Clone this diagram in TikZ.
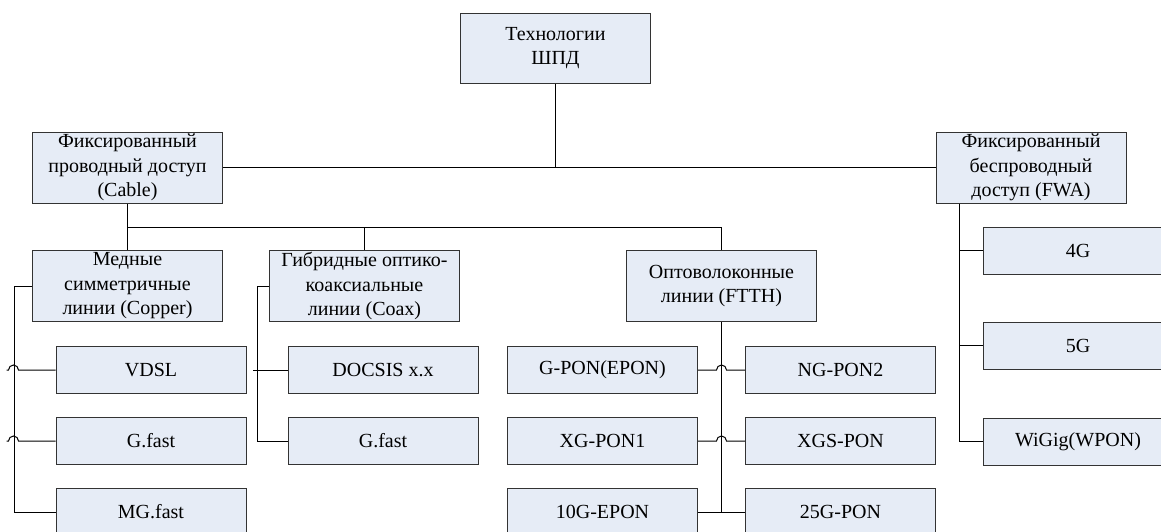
\documentclass[tikz,border=0pt]{standalone}
\usepackage{fontspec}
\setmainfont{Liberation Serif}

\definecolor{boxfill}{RGB}{230,236,246}

\begin{document}
\begin{tikzpicture}[x=1pt,y=-1pt,
  blk/.style={draw=black!80,fill=boxfill,line width=1pt,minimum width=190pt,
    inner sep=0pt,align=center,font=\fontsize{20}{24.5}\selectfont},
  tallbox/.style={blk,minimum height=71pt},
  smallbox/.style={blk,minimum height=47pt},
  wire/.style={line width=1pt,black}]
\useasboundingbox (0,0) rectangle (1161,531);

% top and first level
\node [blk,minimum height=70pt] (shpd) at (555.5,48) {Технологии\\ШПД};
\node [tallbox] (cable) at (127.5,167.5) {Фиксированный\\проводный доступ\\(Cable)};
\node [tallbox] (fwa) at (1031,167.5) {Фиксированный\\беспроводный\\доступ (FWA)};

% wired groups
\node [tallbox] (copper) at (127.5,286) {Медные\\симметричные\\линии (Copper)};
\node [tallbox] (coax) at (364.5,286) {Гибридные оптико-\\коаксиальные\\линии (Coax)};
\node [tallbox] (ftth) at (721.5,286) {Оптоволоконные\\линии (FTTH)};

% copper
\node [smallbox] (vdsl) at (151,370) {VDSL};
\node [smallbox] (gfast) at (151,441) {G.fast};
\node [smallbox] (mgfast) at (151,512) {MG.fast};

% coax
\node [smallbox] (docsis) at (383,370) {DOCSIS x.x};
\node [smallbox] (gfastc) at (383,441) {G.fast};

% ftth
\node [smallbox] (gpon) at (602.5,370) {G-PON(EPON)};
\node [smallbox] (xgpon) at (602.5,441) {XG-PON1};
\node [smallbox] (epon) at (602.5,512) {10G-EPON};
\node [smallbox] (ngpon) at (840.5,370) {NG-PON2};
\node [smallbox] (xgspon) at (840.5,441) {XGS-PON};
\node [smallbox] (pon25) at (840.5,512) {25G-PON};

% wireless
\node [smallbox] (g4) at (1078,250.5) {4G};
\node [smallbox] (g5) at (1078,345.5) {5G};
\node [smallbox] (wigig) at (1078,441.5) {WiGig(WPON)};

% main line
\draw [wire] (cable.east) -- (fwa.west);
\draw [wire] (shpd.south) -- (shpd.south |- cable.east);

% wired bus
\coordinate (bus) at (127.5,227);
\draw [wire] (cable.south) -- (copper.north);
\draw [wire] (bus) -- (bus -| ftth.north) -- (ftth.north);
\draw [wire] (bus -| coax.north) -- (coax.north);

% copper links, hops over the bus
\draw [wire] (copper.west) -- ++(-18,0) |- (mgfast.west);
\draw [wire] (vdsl.west) -- ++(-37,0) arc[start angle=0,end angle=180,radius=5pt] -- ++(-2,0);
\draw [wire] (gfast.west) -- ++(-37,0) arc[start angle=0,end angle=180,radius=5pt] -- ++(-2,0);

% coax links
\draw [wire] (coax.west) -- ++(-12,0) |- (gfastc.west);
\draw [wire] (docsis.west) -- ++(-35,0);

% ftth links
\draw [wire] (ftth.south) -- (ftth.south |- epon.east);
\draw [wire] (epon.east) -- (pon25.west);
\draw [wire] (gpon.east) -- ++(18.5,0) arc[start angle=180,end angle=0,radius=5pt] -- (ngpon.west);
\draw [wire] (xgpon.east) -- ++(18.5,0) arc[start angle=180,end angle=0,radius=5pt] -- (xgspon.west);

% wireless links
\draw [wire] ([xshift=23.5pt]fwa.south west) |- (wigig.west);
\draw [wire] (g4.west) -- ++(-23.5,0);
\draw [wire] (g5.west) -- ++(-23.5,0);
\end{tikzpicture}
\end{document}
